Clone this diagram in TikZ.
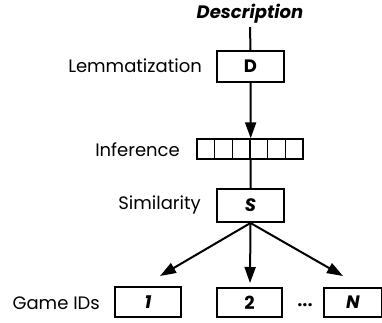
\documentclass[tikz,border=0pt]{standalone}
\usepackage{fontspec}
\setmainfont{Poppins}
\usetikzlibrary{arrows.meta}

\begin{document}
\begin{tikzpicture}[x=1pt,y=-1pt,
  txt/.style={font=\fontsize{18}{20}\selectfont,inner sep=0pt},
  box/.style={draw,line width=2pt,inner sep=0pt,minimum height=30pt,font=\fontsize{18}{20}\selectfont\bfseries},
  cell/.style={draw,line width=1.4pt,inner sep=0pt,minimum width=17.67pt,minimum height=20pt},
  link/.style={line width=2pt},
  arr/.style={line width=2pt,-{Triangle[length=16pt,width=11pt]}}]
\useasboundingbox (0,0) rectangle (382,322);

% input and boxes
\node [txt,font=\fontsize{18}{20}\selectfont\bfseries\itshape] (desc) at (250,14) {Description};
\node [box,minimum width=67pt,minimum height=31pt] (d) at (250.5,66.5) {D};
\foreach \k in {1,...,6}
  \node [cell] (c\k) at ({197+(\k-0.5)*17.667},149) {};
\node [box,minimum width=67pt,minimum height=33pt] (s) at (250.5,205.5) {\itshape S};
\node [box,minimum width=66pt] (g1) at (148,302) {\itshape 1};
\node [box,minimum width=65pt,minimum height=29pt] (g2) at (249.5,302.5) {2};
\node [box,minimum width=58pt,minimum height=29pt] (gn) at (353,302.5) {\itshape N};
\node [txt,font=\fontsize{17}{19}\selectfont\bfseries] (ell) at (305,307) {···};

% labels on the left
\node [txt,anchor=east] (lem) at (202,66) {Lemmatization};
\node [txt,anchor=east] (infer) at (180,150) {Inference};
\node [txt,anchor=east] (simil) at (201,205) {Similarity};
\node [txt,anchor=east] (ids) at (100,303) {Game IDs};

% connectors
\coordinate (top) at (250,27);
\coordinate (t1) at (160,276);
\coordinate (t2) at (250,283);
\coordinate (tn) at (343,276);
\draw [link] (top) -- (d.north);
\draw [arr] (d.south) -- (c3.north east);
\draw [link] (c3.south east) -- (s.north);
\draw [arr] (s.south) -- (t1);
\draw [arr] (s.south) -- (t2);
\draw [arr] (s.south) -- (tn);
\end{tikzpicture}
\end{document}
